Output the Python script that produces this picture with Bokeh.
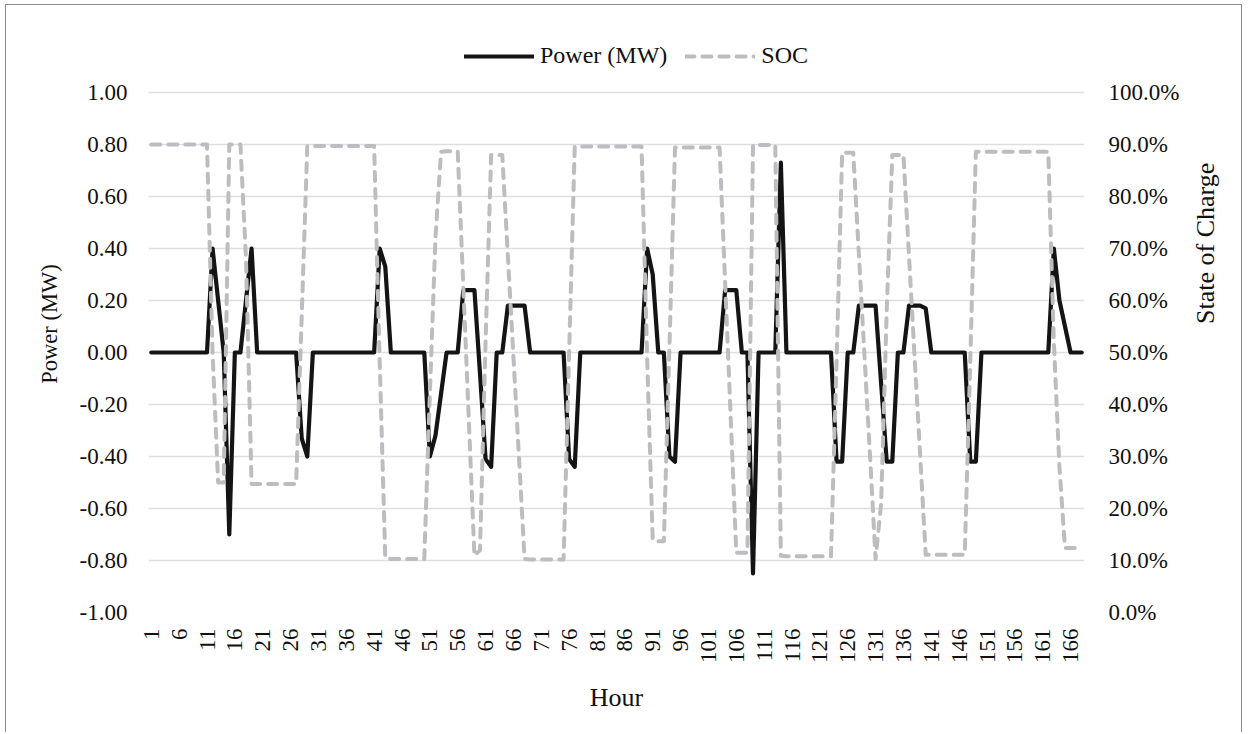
import math
from bokeh.plotting import figure
from bokeh.models import (Range1d, LinearAxis, FixedTicker, NumeralTickFormatter,
                          Legend, LegendItem, ColumnDataSource)
from bokeh.embed import file_html
from bokeh.resources import INLINE

# ---------------- data ----------------
power_day1 = [0, 0, 0, 0, 0, 0, 0, 0, 0, 0, 0, 0.40, 0.20, 0, -0.70, 0, 0, 0.20, 0.40, 0, 0, 0, 0, 0]
power_day2 = [0, 0, 0, -0.33, -0.40, 0, 0, 0, 0, 0, 0, 0, 0, 0, 0, 0, 0, 0.40, 0.33, 0, 0, 0, 0, 0]
power_day3 = [0, 0, -0.40, -0.32, -0.16, 0, 0, 0, 0.24, 0.24, 0.24, -0.08, -0.41, -0.44, 0, 0,
              0.18, 0.18, 0.18, 0.18, 0, 0, 0, 0]
power_day4 = [0, 0, 0, -0.41, -0.44, 0, 0, 0, 0, 0, 0, 0, 0, 0, 0, 0, 0, 0.40, 0.30, 0, 0,
              -0.40, -0.42, 0]
power_day5 = [0, 0, 0, 0, 0, 0, 0, 0.24, 0.24, 0.24, 0, 0, -0.85, 0, 0, 0, 0, 0.73, 0, 0, 0, 0, 0, 0]
power_day6 = [0, 0, 0, -0.42, -0.42, 0, 0, 0.18, 0.18, 0.18, 0.18, -0.12, -0.42, -0.42, 0, 0,
              0.18, 0.18, 0.18, 0.17, 0, 0, 0, 0]
power_day7 = [0, 0, 0, -0.42, -0.42, 0, 0, 0, 0, 0, 0, 0, 0, 0, 0, 0, 0, 0, 0.40, 0.20, 0.10, 0, 0, 0]

soc_day1 = [90.0, 90.0, 90.0, 90.0, 90.0, 90.0, 90.0, 90.0, 90.0, 90.0, 90.0, 50.0, 25.0, 25.0,
            90.0, 90.0, 90.0, 68.0, 24.7, 24.7, 24.7, 24.7, 24.7, 24.7]
soc_day2 = [24.7, 24.7, 24.7, 57.0, 89.7, 89.7, 89.7, 89.7, 89.7, 89.7, 89.7, 89.7, 89.7, 89.7,
            89.7, 89.7, 89.7, 48.0, 10.5, 10.3, 10.3, 10.3, 10.3, 10.3]
soc_day3 = [10.3, 10.3, 42.0, 72.0, 88.6, 88.7, 88.7, 88.7, 62.8, 36.9, 10.9, 12.0, 52.0, 88.0,
            88.0, 88.0, 68.6, 49.2, 29.8, 10.3, 10.2, 10.2, 10.2, 10.2]
soc_day4 = [10.2, 10.2, 10.2, 50.0, 89.6, 89.6, 89.6, 89.6, 89.6, 89.6, 89.6, 89.6, 89.6, 89.6,
            89.6, 89.6, 89.6, 49.0, 13.9, 13.7, 13.7, 51.0, 89.4, 89.4]
soc_day5 = [89.4, 89.4, 89.4, 89.4, 89.4, 89.4, 89.4, 63.4, 37.4, 11.5, 11.5, 11.5, 89.9, 89.9,
            89.9, 89.9, 89.9, 10.9, 10.8, 10.8, 10.8, 10.8, 10.8, 10.8]
soc_day6 = [10.8, 10.8, 10.8, 48.2, 88.4, 88.4, 88.4, 69.0, 49.6, 30.2, 10.3, 21.0, 58.0, 88.0,
            88.0, 88.0, 68.6, 49.2, 30.3, 11.1, 11.1, 11.1, 11.1, 11.1]
soc_day7 = [11.1, 11.1, 11.1, 48.5, 88.6, 88.6, 88.6, 88.6, 88.6, 88.6, 88.6, 88.6, 88.6, 88.6,
            88.6, 88.6, 88.6, 88.6, 52.0, 28.0, 12.4, 12.4, 12.4, 12.4]

power = power_day1 + power_day2 + power_day3 + power_day4 + power_day5 + power_day6 + power_day7
soc_pct = soc_day1 + soc_day2 + soc_day3 + soc_day4 + soc_day5 + soc_day6 + soc_day7
n = min(len(power), len(soc_pct))
hours = list(range(1, n + 1))

x_ticks = [1, 6, 11, 16, 21, 26, 31, 36, 41, 46, 51, 56, 61, 66, 71, 76, 81, 86, 91, 96, 101,
           106, 111, 116, 121, 126, 131, 136, 141, 146, 151, 156, 161, 166]
power_ticks = [-1.0, -0.8, -0.6, -0.4, -0.2, 0.0, 0.2, 0.4, 0.6, 0.8, 1.0]
soc_ticks = [0.0, 0.1, 0.2, 0.3, 0.4, 0.5, 0.6, 0.7, 0.8, 0.9, 1.0]

series_names = ["Power (MW)", "SOC"]
axis_titles = {"x": "Hour", "left": "Power (MW)", "right": "State of Charge"}

# ---------------- layout / styling ----------------
FONT = "Liberation Serif"
TXT = "#111111"
GRID = "#DEDEDE"

W, H = 1237, 728
B_LEFT, B_RIGHT, B_TOP, B_BOTTOM = 142, 159, 30, 121
PLOT_TOP = 87                      # canvas y of the 1.00 / 100% gridline
frame_h = H - B_TOP - B_BOTTOM
px_per_unit = (H - B_BOTTOM - PLOT_TOP) / 2.0
head = (PLOT_TOP - B_TOP) / px_per_unit   # headroom above 1.00 (for the legend row)

src = ColumnDataSource(dict(hour=hours, power=power[:n], soc=[v / 100.0 for v in soc_pct[:n]]))

p = figure(width=W, height=H, output_backend="svg", toolbar_location=None,
           x_range=Range1d(0.5, 168.5), y_range=Range1d(-1.0, 1.0 + head),
           min_border_left=B_LEFT, min_border_right=B_RIGHT,
           min_border_top=B_TOP, min_border_bottom=B_BOTTOM,
           background_fill_color="white", border_fill_color="white")
p.outline_line_color = None
p.extra_y_ranges = {"soc": Range1d(0.0, 1.0 + head / 2.0)}
try:
    p.styles = {"margin-left": "5px", "margin-top": "4px",
                "border-left": "1.5px solid #8C8C8C", "border-top": "1.5px solid #8C8C8C",
                "border-right": "1.5px solid #8C8C8C"}
except Exception:
    pass

p.xgrid.visible = False
p.ygrid.ticker = FixedTicker(ticks=power_ticks)
p.ygrid.grid_line_color = GRID
p.ygrid.grid_line_width = 1.3

r_power = p.line("hour", "power", source=src, line_color="#141414", line_width=4.2,
                 line_join="round", line_cap="round")
r_soc = p.line("hour", "soc", source=src, y_range_name="soc", line_color="#BDBDC1", line_width=4,
               line_dash="9 8", line_join="round", line_cap="round")

# left axis
left = p.yaxis[0]
left.ticker = FixedTicker(ticks=power_ticks)
left.formatter = NumeralTickFormatter(format="0.00")
left.axis_label = axis_titles["left"]

# right axis
right = LinearAxis(y_range_name="soc", ticker=FixedTicker(ticks=soc_ticks),
                   formatter=NumeralTickFormatter(format="0.0%"),
                   axis_label=axis_titles["right"])
p.add_layout(right, "right")

# bottom axis
bottom = p.xaxis[0]
bottom.ticker = FixedTicker(ticks=x_ticks)
bottom.axis_label = axis_titles["x"]
bottom.major_label_orientation = math.pi / 2

for ax in (left, right, bottom):
    ax.axis_line_color = None
    ax.major_tick_line_color = None
    ax.minor_tick_line_color = None
    ax.major_tick_out = 0
    ax.major_tick_in = 0
    ax.major_label_text_font = FONT
    ax.major_label_text_font_size = "23px"
    ax.major_label_text_color = TXT
    ax.axis_label_text_font = FONT
    ax.axis_label_text_font_style = "normal"
    ax.axis_label_text_color = TXT

left.major_label_standoff = 21
left.axis_label_standoff = 15
left.axis_label_text_font_size = "22.5px"

right.major_label_standoff = 24
right.axis_label_standoff = 23
right.axis_label_text_font_size = "26px"
try:
    right.axis_label_orientation = math.pi / 2
except Exception:
    pass

bottom.major_label_standoff = 16
bottom.axis_label_standoff = 17
bottom.axis_label_text_font_size = "26px"

# legend row above the 1.00 gridline, inside the (taller) frame
legend = Legend(items=[LegendItem(label=series_names[0], renderers=[r_power]),
                       LegendItem(label=series_names[1], renderers=[r_soc])],
                orientation="horizontal", location=(316, frame_h - 34),
                glyph_width=70, glyph_height=20, label_standoff=6, spacing=18,
                padding=0, margin=0, border_line_color=None, background_fill_alpha=0,
                label_text_font=FONT, label_text_font_size="24px", label_text_color=TXT)
p.add_layout(legend, "center")

open("out.html", "w").write(file_html(p, INLINE, "chart"))
